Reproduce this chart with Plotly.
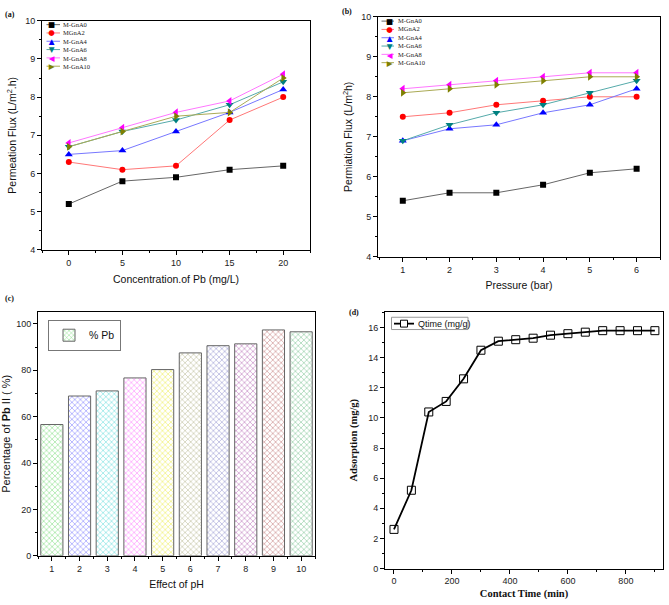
import plotly.graph_objects as go

W, H = 669, 605

# ---------------- data ----------------
series_names = ["M-GnA0", "MGnA2", "M-GnA4", "M-GnA6", "M-GnA8", "M-GnA10"]
legend_names_b = ["M-GnA0", "MGnA2", "M-GnA4", "M-GnA6", "M-GnA8", "M-GnA10"]

conc_pb = [0, 5, 10, 15, 20]
flux_conc_A0 = [5.2, 5.8, 5.9, 6.1, 6.2]
flux_conc_A2 = [6.3, 6.1, 6.2, 7.4, 8.0]
flux_conc_A4 = [6.5, 6.6, 7.1, 7.6, 8.2]
flux_conc_A6 = [6.7, 7.1, 7.4, 7.8, 8.4]
flux_conc_A8 = [6.8, 7.2, 7.6, 7.9, 8.6]
flux_conc_A10 = [6.7, 7.1, 7.5, 7.6, 8.5]

pressure_bar = [1, 2, 3, 4, 5, 6]
flux_pres_A0 = [5.4, 5.6, 5.6, 5.8, 6.1, 6.2]
flux_pres_A2 = [7.5, 7.6, 7.8, 7.9, 8.0, 8.0]
flux_pres_A4 = [6.9, 7.2, 7.3, 7.6, 7.8, 8.2]
flux_pres_A6 = [6.9, 7.3, 7.6, 7.8, 8.1, 8.4]
flux_pres_A8 = [8.2, 8.3, 8.4, 8.5, 8.6, 8.6]
flux_pres_A10 = [8.1, 8.2, 8.3, 8.4, 8.5, 8.5]

ph_values = [1, 2, 3, 4, 5, 6, 7, 8, 9, 10]
pb_removal_pct = [56.6, 68.9, 71.1, 76.7, 80.3, 87.5, 90.6, 91.4, 97.4, 96.6]

contact_time = [0, 60, 120, 180, 240, 300, 360, 420, 480, 540, 600, 660, 720, 780, 840, 900]
qtime = [2.6, 5.2, 10.4, 11.1, 12.6, 14.5, 15.1, 15.2, 15.3, 15.5, 15.6, 15.7, 15.8, 15.8, 15.8, 15.8]

# ---------------- styles ----------------
marker_colors = ["#000000", "#ff0000", "#0000ff", "#008080", "#ff00ff", "#808000"]
line_colors = ["#666666", "#ff7777", "#7777ff", "#55aaaa", "#ff77ff", "#aaaa55"]
symbols = ["square", "circle", "triangle-up", "triangle-down", "triangle-left", "triangle-right"]
glyphs = ["\u25A0", "\u25CF", "\u25B2", "\u25BC", "\u25C0", "\u25B6"]
bar_colors = ["#44cc44", "#4444ff", "#22cccc", "#ff44ff", "#e6e600",
              "#999966", "#6666bb", "#993399", "#aa4444", "#44aa66"]

SANS = "Liberation Sans, Arial, sans-serif"
SERIF = "Liberation Serif, Times New Roman, serif"


def px(x):
    return x / W


def py(y):
    return 1 - y / H


fig = go.Figure()

conc_series = [flux_conc_A0, flux_conc_A2, flux_conc_A4, flux_conc_A6, flux_conc_A8, flux_conc_A10]
pres_series = [flux_pres_A0, flux_pres_A2, flux_pres_A4, flux_pres_A6, flux_pres_A8, flux_pres_A10]

for i, name in enumerate(series_names):
    msize = 6 if i < 2 else 7
    fig.add_trace(go.Scatter(
        x=conc_pb, y=conc_series[i], mode="lines+markers", name=name,
        xaxis="x", yaxis="y", showlegend=False,
        line=dict(color=line_colors[i], width=1),
        marker=dict(symbol=symbols[i], size=msize, color=marker_colors[i])))

for i, name in enumerate(legend_names_b):
    msize = 6 if i < 2 else 7
    fig.add_trace(go.Scatter(
        x=pressure_bar, y=pres_series[i], mode="lines+markers", name=name,
        xaxis="x2", yaxis="y2", showlegend=False,
        line=dict(color=line_colors[i], width=1),
        marker=dict(symbol=symbols[i], size=msize, color=marker_colors[i])))

fig.add_trace(go.Bar(
    x=ph_values, y=pb_removal_pct, name="% Pb", xaxis="x3", yaxis="y3",
    width=0.8, showlegend=True,
    marker=dict(color=bar_colors, line=dict(color="#666666", width=1),
                pattern=dict(shape="x", size=4, solidity=0.18, fillmode="replace"))))

fig.add_trace(go.Scatter(
    x=contact_time, y=qtime, mode="lines+markers", name="Qtime (mg/g)",
    xaxis="x4", yaxis="y4", showlegend=False,
    line=dict(color="black", width=1.8),
    marker=dict(symbol="square-open", size=8, color="black", line=dict(width=1))))


def ax(domain, rng, anchor, dtick, minor_dtick, title, tfont, standoff=None):
    d = dict(domain=domain, range=rng, anchor=anchor, dtick=dtick, tick0=0,
             showline=True, linecolor="black", linewidth=1, mirror=True,
             ticks="outside", ticklen=4, tickwidth=1, tickcolor="black",
             minor=dict(ticks="outside", ticklen=2, dtick=minor_dtick, tickcolor="black", showgrid=False),
             showgrid=False, zeroline=False,
             tickfont=dict(family=SANS, size=9, color="#222222"),
             title=dict(text=title, font=tfont))
    if standoff is not None:
        d["title"]["standoff"] = standoff
    return d


tf_sans = dict(family=SANS, size=10.5, color="#111111")
tf_serif = dict(family=SERIF, size=10.5, color="#111111")

layout = dict(
    width=W, height=H, autosize=False,
    margin=dict(l=0, r=0, t=0, b=0),
    paper_bgcolor="white", plot_bgcolor="white",
    xaxis=ax([px(42), px(310)], [-2.5, 22.5], "y", 5, 2.5, "Concentration.of Pb (mg/L)", tf_sans, 8),
    yaxis=ax([py(249), py(16)], [4, 10], "x", 1, 0.5, "Permeation Flux (L/m<sup>2</sup>.h)", tf_sans, 6),
    xaxis2=ax([px(378), px(660)], [0.47, 6.5], "y2", 1, 0.5, "Pressure (bar)", tf_sans, 8),
    yaxis2=ax([py(256), py(12)], [4, 10], "x2", 1, 0.5, "Permiation Flux (L/m<sup>2</sup>h)", tf_sans, 6),
    xaxis3=ax([px(38), px(315)], [0.5, 10.5], "y3", 1, 0.5, "Effect of pH", tf_sans, 8),
    yaxis3=ax([py(560), py(312)], [0, 105.2], "x3", 20, 10, "Percentage of <b>Pb</b> II ( %)", dict(family=SANS, size=11, color="#111111"), 6),
    xaxis4=ax([px(385), px(663)], [-31, 928], "y4", 200, 100, "<b>Contact Time (min)</b>", tf_serif, 4),
    yaxis4=ax([py(573), py(312)], [0, 17.05], "x4", 2, 1, "<b>Adsorption (mg/g)</b>", tf_serif, 8),
    bargap=0.2,
    legend=dict(x=px(48), y=py(320), xanchor="left", yanchor="top",
                bgcolor="white", bordercolor="#777777", borderwidth=1,
                font=dict(family=SANS, size=10.5, color="#111111"),
                itemwidth=30, tracegroupgap=0),
    showlegend=True,
)
fig.update_layout(**layout)

shapes = []
annotations = []

FS_LEG = 6.5
ROW = FS_LEG * 1.3


# manual legends for (a) and (b)
def add_small_legend(names, x_line0, x_line1, x_mark, x_text, y_mid):
    n = len(names)
    for i in range(n):
        yy = y_mid + (i - (n - 1) / 2) * ROW
        shapes.append(dict(type="line", xref="paper", yref="paper",
                           x0=px(x_line0), x1=px(x_line1), y0=py(yy), y1=py(yy),
                           line=dict(color=line_colors[i], width=1)))
    glyph_text = "<br>".join(
        "<span style='font-size:7.5px;color:%s'>%s</span>" % (marker_colors[i], glyphs[i]) for i in range(n))
    annotations.append(dict(text=glyph_text, xref="paper", yref="paper",
                            x=px(x_mark), y=py(y_mid + 0.5), xanchor="center", yanchor="middle",
                            showarrow=False, borderpad=0, align="center",
                            font=dict(family="DejaVu Sans", size=FS_LEG, color="#000000")))
    annotations.append(dict(text="<br>".join(names), xref="paper", yref="paper",
                            x=px(x_text), y=py(y_mid), xanchor="left", yanchor="middle",
                            showarrow=False, borderpad=0, align="left",
                            font=dict(family=SERIF, size=FS_LEG, color="#222222")))


add_small_legend(series_names, 46.5, 60, 52, 61.5, 41.1)
add_small_legend(legend_names_b, 381.5, 394, 389, 396.5, 37.5)

# manual legend for (d)
shapes.append(dict(type="rect", xref="paper", yref="paper",
                   x0=px(391.5), x1=px(468), y0=py(330), y1=py(317.5),
                   line=dict(color="#999999", width=1), fillcolor="white"))
shapes.append(dict(type="line", xref="paper", yref="paper",
                   x0=px(394), x1=px(414), y0=py(324), y1=py(324),
                   line=dict(color="black", width=1.8)))
shapes.append(dict(type="rect", xref="paper", yref="paper",
                   x0=px(400.5), x1=px(407.5), y0=py(327.5), y1=py(320.5),
                   line=dict(color="black", width=1), fillcolor="white"))
annotations.append(dict(text="Qtime (mg/g)", xref="paper", yref="paper",
                        x=px(416), y=py(324), xanchor="left", yanchor="middle",
                        showarrow=False, font=dict(family=SANS, size=9, color="#111111")))

# panel labels
for lab, x, y in [("(a)", 3, 10), ("(b)", 340, 7), ("(c)", 3, 298), ("(d)", 347, 313)]:
    annotations.append(dict(text="<b>" + lab + "</b>", xref="paper", yref="paper",
                            x=px(x), y=py(y), xanchor="left", yanchor="middle",
                            showarrow=False, font=dict(family=SERIF, size=8, color="#111111")))

fig.update_layout(shapes=shapes, annotations=annotations)
fig.write_html("out.html", config={"displayModeBar": False},
               post_script="document.body.style.margin='0';document.body.style.overflow='hidden';")
